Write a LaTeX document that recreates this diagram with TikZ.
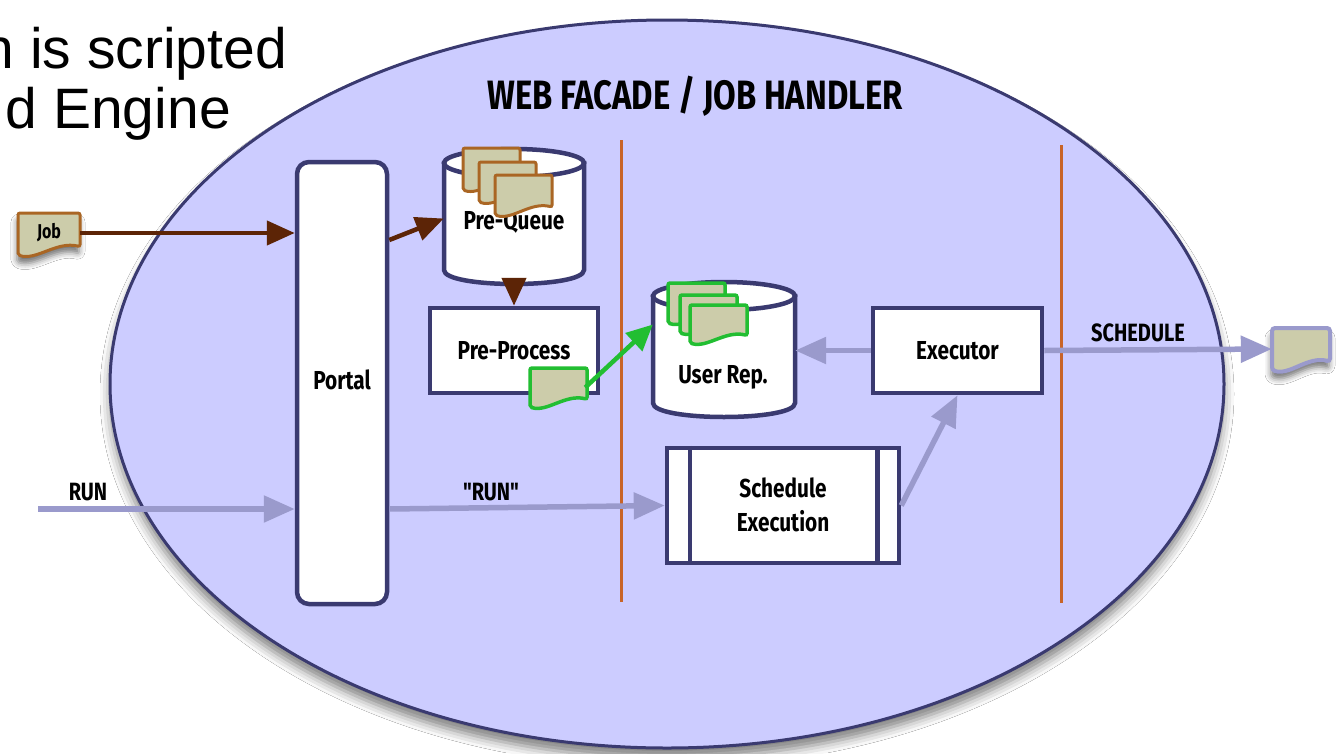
\documentclass[tikz,border=0pt]{standalone}
\usepackage{fontspec}
\setmainfont{Liberation Sans}
\newfontfamily\lblfont[FakeStretch=0.8]{Fira Sans}
\usetikzlibrary{arrows.meta,calc,shadows.blur}

\definecolor{lav}{RGB}{204,204,255}
\definecolor{navy}{RGB}{58,58,112}
\definecolor{rust}{RGB}{200,100,40}
\definecolor{brownarrow}{RGB}{92,36,6}
\definecolor{docbrown}{RGB}{170,102,36}
\definecolor{khaki}{RGB}{204,204,170}
\definecolor{grn}{RGB}{34,190,50}
\definecolor{lilac}{RGB}{154,154,204}

% cylinder: centre x, half width, top centre y, bottom centre y, ellipse radius
\newcommand\drum[5]{%
  \filldraw[drumline] (#1-#2,#3) -- (#1-#2,#4)
    .. controls (#1-#2,#4+1.333*#5) and (#1+#2,#4+1.333*#5) .. (#1+#2,#4)
    -- (#1+#2,#3) -- cycle;
  \filldraw[drumline] (#1,#3) ellipse [x radius=#2, y radius=#5];
}

% sheet with a wavy lower edge: left x, top y, width, height, style
\newcommand\sheet[5]{%
  \path[#5] (#1,#2) -- (#1+#3,#2) -- (#1+#3,#2+0.8*#4)
    .. controls (#1+0.62*#3,#2+0.66*#4) and (#1+0.3*#3,#2+1.14*#4) .. (#1,#2+#4)
    -- cycle;
}

\begin{document}
\begin{tikzpicture}[x=1pt,y=-1pt,
  box/.style={draw=navy, line width=4.5pt, fill=white, inner sep=0pt},
  drumline/.style={draw=navy, line width=4.5pt, fill=white},
  lbl/.style={font=\lblfont\bfseries\fontsize{26}{34}\selectfont, text=black, inner sep=0pt},
  small/.style={font=\lblfont\bfseries\fontsize{25}{28}\selectfont, text=black, inner sep=0pt},
  sep/.style={draw=rust, line width=3pt},
  area/.style={inner sep=0pt},
  brownsheet/.style={draw=docbrown, line width=3pt, fill=khaki, rounded corners=2pt},
  greensheet/.style={draw=grn, line width=3.5pt, fill=khaki, rounded corners=2pt},
  lilacsheet/.style={draw=lilac, line width=4pt, fill=khaki, rounded corners=3pt},
  sheetshadow/.style={blur shadow={shadow xshift=-1pt, shadow yshift=-7pt, shadow blur radius=6pt, shadow opacity=55}},
  brownflow/.style={draw=brownarrow, line width=4.5pt, -{Triangle[length=28pt,width=24pt]}},
  greenflow/.style={draw=grn, line width=4.5pt, -{Triangle[length=26pt,width=24pt]}},
  lilacflow/.style={draw=lilac, line width=5.5pt, -{Triangle[length=31pt,width=26pt]}},
]
\useasboundingbox (0,0) rectangle (1336,753);
\fill[white] (0,0) rectangle (1336,753);

% the handler housing
\filldraw[fill=lav, draw=navy, line width=3pt,
  blur shadow={shadow xshift=0pt, shadow yshift=-10pt, shadow blur radius=10pt, shadow opacity=50}]
  (667,384) ellipse [x radius=557, y radius=364];

% caption at the top left
\node[anchor=base east, font=\fontsize{57}{60}\selectfont, inner sep=0pt] (capa) at (287,68) {n is scripted};
\node[anchor=base east, font=\fontsize{57}{60}\selectfont, inner sep=0pt] (capb) at (231,128) {d Engine};

\node[font=\lblfont\bfseries\fontsize{41}{44}\selectfont, inner sep=0pt] (title) at (695,96) {WEB FACADE / JOB HANDLER};

% stage separators
\draw[sep] (621,140) -- (621,602);
\draw[sep] (1061,145) -- (1061,603);

% boxes
\node[box, rounded corners=12pt, minimum width=90pt, minimum height=442pt] (portal) at (342,383) {};
\node[lbl] (portallbl) at (342,380) {Portal};

\node[box, minimum width=168pt, minimum height=85pt, lbl] (pp) at (514,350.5) {Pre-Process};
\node[box, minimum width=169pt, minimum height=85pt, lbl] (ex) at (957.5,350.5) {Executor};

\node[box, minimum width=232pt, minimum height=115pt] (se) at (783,505.5) {};
\draw[navy, line width=4.5pt] ([xshift=25pt]se.north west) -- ([xshift=25pt]se.south west);
\draw[navy, line width=4.5pt] ([xshift=-24pt]se.north east) -- ([xshift=-24pt]se.south east);
\node[lbl, align=center] (selbl) at (783,505) {Schedule\\Execution};

% stores
\drum{514}{70}{163}{270}{14}
\node[area, minimum width=140pt, minimum height=135pt] (pq) at (514,216.5) {};
\node[lbl] (pqlbl) at (514,222) {Pre-Queue};

\drum{724}{71}{296}{403}{14}
\node[area, minimum width=142pt, minimum height=135pt] (ur) at (724,349.5) {};
\node[lbl] (urlbl) at (723,377) {User Rep.};

% queued jobs in the pre-queue
\sheet{463}{148}{57}{42}{brownsheet}
\sheet{479}{162}{57}{40}{brownsheet}
\sheet{495}{175}{57}{40}{brownsheet}

% stored jobs in the user repository
\sheet{668}{283}{57}{40}{greensheet}
\sheet{680}{295}{57}{38}{greensheet}
\sheet{690}{305}{57}{38}{greensheet}

% incoming job
\sheet{18}{213}{62}{42}{brownsheet, sheetshadow}
\node[area, minimum width=62pt, minimum height=42pt,
  font=\lblfont\bfseries\fontsize{20}{20}\selectfont] (job) at (49,233) {Job};

% processed job
\sheet{530}{368}{57}{39}{greensheet}
\node[area, minimum width=57pt, minimum height=39pt] (gdoc) at (558.5,387.5) {};

% scheduled job leaving the handler
\sheet{1272}{328}{58}{42}{lilacsheet, sheetshadow}
\node[area, minimum width=58pt, minimum height=42pt] (out) at (1301,349) {};

% connectors
\coordinate (runin) at (38,509);
\draw[brownflow] (job.east) -- (portal.west |- job.east);
\draw[brownflow] ([yshift=143pt]portal.east) -- ([yshift=-2pt]pq.west);
\draw[brownflow] (pq.south) -- (pp.north);
\draw[greenflow] ([xshift=-2pt]gdoc.east) -- ([yshift=25pt]ur.west);
\draw[lilacflow] (ex.west) -- (ur.east |- ex.west);
\draw[lilacflow] (se.east) -- (ex.south);
\draw[lilacflow] (runin) -- (portal.west |- runin);
\draw[lilacflow] (portal.east |- runin) -- (se.west);
\draw[lilacflow] (ex.east) -- (out.west);

% connector labels
\node[small] (runlbl) at (88,492) {RUN};
\node[small] (runqlbl) at (491,492) {"RUN"};
\node[small] (schedlbl) at (1138,333) {SCHEDULE};
\end{tikzpicture}
\end{document}
